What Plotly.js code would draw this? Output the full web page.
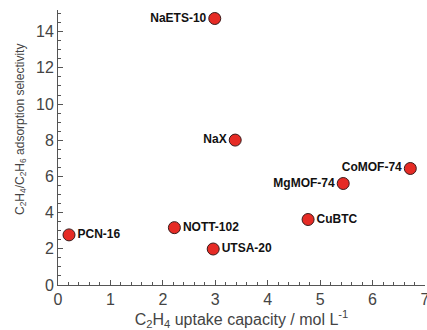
<!DOCTYPE html>
<html>
<head>
<meta charset="utf-8">
<script src="https://cdn.plot.ly/plotly-3.0.1.min.js"></script>
<style>html,body{margin:0;padding:0;background:#fff;}#chart{width:427px;height:330px;}</style>
</head>
<body>
<div id="chart"></div>
<script>
// Adsorbent materials: C2H4 uptake vs C2H4/C2H6 selectivity
const materials = ['NaETS-10', 'NaX', 'CoMOF-74', 'MgMOF-74', 'CuBTC', 'NOTT-102', 'UTSA-20', 'PCN-16'];
const uptake = [2.99, 3.38, 6.72, 5.44, 4.77, 2.22, 2.96, 0.21];
const selectivity = [14.73, 8.01, 6.44, 5.61, 3.62, 3.17, 1.99, 2.77];
const labelSide = ['middle left', 'middle left', 'middle left', 'middle left', 'middle right', 'middle right', 'middle right', 'middle right'];

const xTicks = [0, 1, 2, 3, 4, 5, 6, 7];
const yTicks = [0, 2, 4, 6, 8, 10, 12, 14];

const FONT = 'Liberation Sans, Arial, sans-serif';

const trace = {
  type: 'scatter',
  mode: 'markers+text',
  x: uptake,
  y: selectivity,
  text: materials,
  textposition: labelSide,
  textfont: {family: FONT, size: 12, color: '#111', weight: 'bold'},
  marker: {size: 12, color: '#e62b25', line: {color: '#3a1a1a', width: 1}},
  cliponaxis: false,
  hoverinfo: 'none'
};

const axisCommon = {
  showline: true,
  linecolor: '#555',
  linewidth: 1,
  ticks: 'inside',
  ticklen: 5,
  tickwidth: 1,
  tickcolor: '#555',
  showgrid: false,
  zeroline: false,
  mirror: false,
  ticklabeloverflow: 'allow',
  tickfont: {family: FONT, size: 16, color: '#444'}
};

const layout = {
  width: 427,
  height: 330,
  margin: {l: 58, r: 2, t: 10, b: 45},
  paper_bgcolor: '#fff',
  plot_bgcolor: '#fff',
  showlegend: false,
  xaxis: Object.assign({}, axisCommon, {
    range: [0, 7.0001],
    tickvals: xTicks,
    ticktext: xTicks.map(String),
    minor: {dtick: 0.2, ticks: 'inside', ticklen: 3, tickcolor: '#555', showgrid: false},
    title: {text: 'C<sub>2</sub>H<sub>4</sub> uptake capacity / mol L<sup>-1</sup>', standoff: 0,
      font: {family: FONT, size: 16, color: '#444'}}
  }),
  yaxis: Object.assign({}, axisCommon, {
    range: [0, 15.2],
    tickvals: yTicks,
    ticktext: yTicks.map(String),
    minor: {dtick: 0.5, ticks: 'inside', ticklen: 3, tickcolor: '#555', showgrid: false}
  }),
  // vertical axis title, set a little above the axis middle
  annotations: [{
    text: 'C<sub>2</sub>H<sub>4</sub>/C<sub>2</sub>H<sub>6</sub> adsorption selectivity',
    textangle: -90,
    xref: 'paper', yref: 'paper',
    x: -0.101, y: 0.567,
    xanchor: 'center', yanchor: 'middle',
    showarrow: false,
    font: {family: FONT, size: 12, color: '#444'}
  }]
};

Plotly.newPlot('chart', [trace], layout, {displayModeBar: false, staticPlot: true});
</script>
</body>
</html>
